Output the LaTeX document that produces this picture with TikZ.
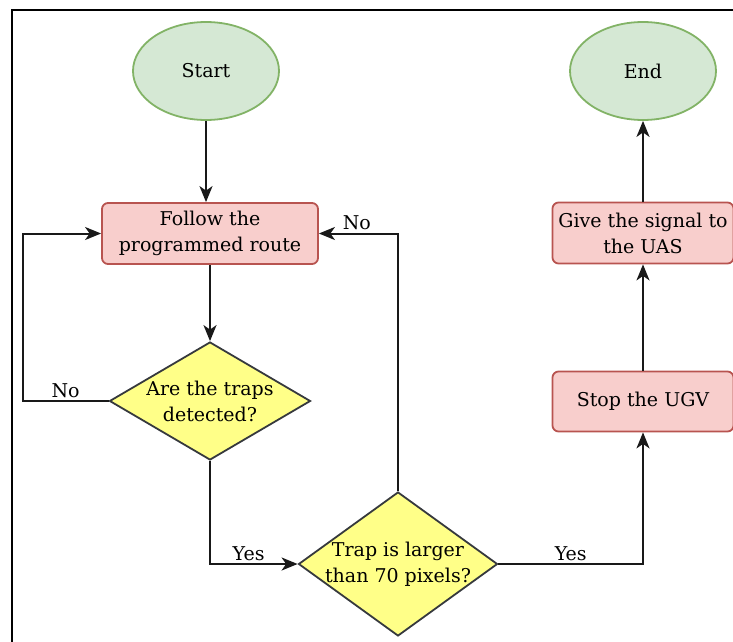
\documentclass[tikz,border=0pt]{standalone}
\usepackage{fontspec}
\setmainfont{DejaVu Serif}
\usetikzlibrary{shapes.geometric,arrows.meta}
\definecolor{endfill}{HTML}{D5E8D4}
\definecolor{endline}{HTML}{82B366}
\definecolor{boxfill}{HTML}{F8CECC}
\definecolor{boxline}{HTML}{B85450}
\definecolor{askfill}{HTML}{FFFF88}
\definecolor{askline}{HTML}{36393D}
\tikzset{
  terminal/.style={ellipse,draw=endline,fill=endfill,line width=1.8pt,inner sep=0pt,minimum width=146,minimum height=98},
  process/.style={rectangle,rounded corners=6pt,draw=boxline,fill=boxfill,line width=1.8pt,align=center,inner sep=0pt,minimum height=61},
  decision/.style={diamond,draw=askline,fill=askfill,line width=1.8pt,align=center,inner ysep=0pt},
  flow/.style={draw=black!90,line width=2pt,-{Stealth[length=16pt,width=13pt,inset=4.5pt]}},
  every node/.style={font=\fontsize{19}{26}\selectfont,text=black}
}

\begin{document}
\begin{tikzpicture}[x=1pt,y=-1pt]
\useasboundingbox (0,0) rectangle (733,642);
\draw[line width=1.2pt] (12,642) -- (12,10) -- (733,10);

\node[terminal] (start) at (206,71) {Start};
\node[terminal] (end) at (643,71) {End};
\node[process,minimum width=216] (follow) at (210,233.5) {Follow the\\programmed route};
\node[process,minimum width=181] (signal) at (643,233) {Give the signal to\\the UAS};
\node[process,minimum width=181,minimum height=60] (stop) at (643,401.5) {Stop the UGV};
\node[decision,inner xsep=-6pt,aspect=1.9,minimum width=201,minimum height=118] (detect) at (210,401) {Are the traps\\detected?};
\node[decision,inner xsep=-12pt,aspect=1.7,minimum width=199,minimum height=144] (size) at (398,564) {Trap is larger\\than 70 pixels?};

\draw[flow] (start) -- (start |- follow.north);
\draw[flow] (follow) -- (detect);
\draw[flow] (detect.west) -- ++(-86,0) node[pos=0.5,above,inner sep=2pt] {No} |- (follow.west);
\draw[flow] (detect.south) |- (size.west) node[pos=0.72,above,inner sep=2pt] {Yes};
\draw[flow] (size.north) |- (follow.east) node[pos=0.76,above,inner sep=3pt] {No};
\draw[flow] (size.east) -| (stop.south) node[pos=0.25,above,inner sep=2pt] {Yes};
\draw[flow] (stop) -- (signal);
\draw[flow] (signal) -- (end);

\end{tikzpicture}
\end{document}
